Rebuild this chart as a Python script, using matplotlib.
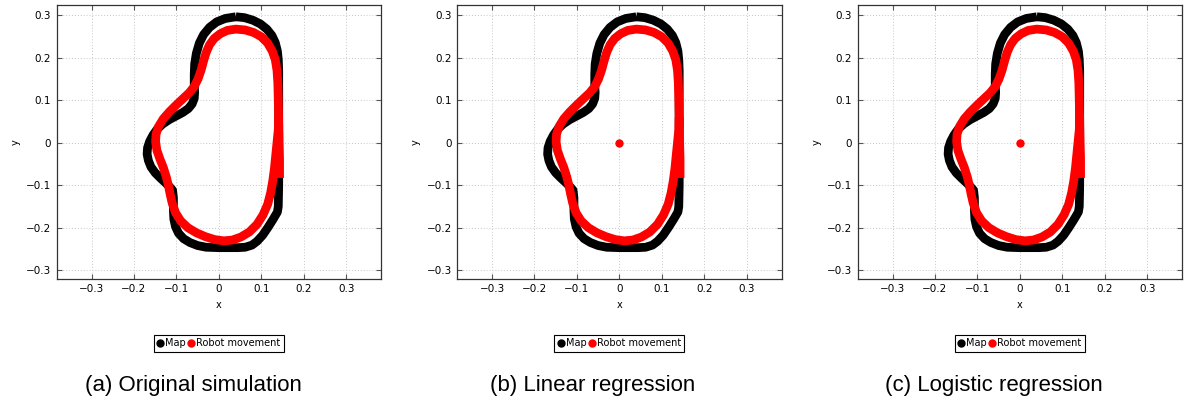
import matplotlib
matplotlib.use("Agg")
import matplotlib.pyplot as plt
from matplotlib.lines import Line2D

# ---------------- data ----------------
map_x = [0.040, 0.060, 0.080, 0.098, 0.113, 0.125, 0.133, 0.138, 0.140, 0.141, 0.141, 0.141,
         0.141, 0.140, 0.138, 0.128, 0.116, 0.103, 0.090, 0.078, 0.062, 0.045, 0.000, -0.030,
         -0.050, -0.068, -0.083, -0.095, -0.102, -0.106, -0.107, -0.107, -0.109, -0.115,
         -0.125, -0.138, -0.150, -0.160, -0.166, -0.169, -0.168, -0.163, -0.155, -0.145,
         -0.132, -0.117, -0.100, -0.085, -0.072, -0.063, -0.058, -0.057, -0.058, -0.058,
         -0.057, -0.053, -0.046, -0.036, -0.022, -0.005, 0.015, 0.040]
map_y = [0.296, 0.294, 0.288, 0.279, 0.267, 0.252, 0.235, 0.215, 0.195, 0.170, 0.100, 0.000,
         -0.100, -0.150, -0.163, -0.180, -0.199, -0.218, -0.232, -0.241, -0.246, -0.247, -0.247,
         -0.246, -0.242, -0.235, -0.226, -0.213, -0.198, -0.180, -0.160, -0.130, -0.112, -0.105,
         -0.095, -0.083, -0.071, -0.057, -0.042, -0.027, -0.012, 0.003, 0.018, 0.032,
         0.044, 0.054, 0.063, 0.071, 0.080, 0.091, 0.104, 0.118, 0.135, 0.160,
         0.185, 0.210, 0.234, 0.254, 0.271, 0.284, 0.292, 0.296]

robot_x = [0.143, 0.143, 0.142, 0.141, 0.140, 0.139, 0.137, 0.133, 0.126, 0.115, 0.100, 0.082,
           0.062, 0.040, 0.020, 0.003, -0.011, -0.022, -0.030, -0.036, -0.042, -0.049, -0.058,
           -0.070, -0.085, -0.101, -0.117, -0.131, -0.142, -0.148, -0.149, -0.146, -0.139,
           -0.131, -0.124, -0.119, -0.115, -0.110, -0.102, -0.090, -0.073, -0.053, -0.032,
           -0.010, 0.012, 0.032, 0.052, 0.072, 0.090, 0.104, 0.115, 0.122, 0.127, 0.131,
           0.134, 0.137, 0.140, 0.141]
robot_y = [-0.083, -0.040, 0.000, 0.050, 0.100, 0.140, 0.170, 0.195, 0.215, 0.234, 0.249, 0.259,
           0.265, 0.267, 0.264, 0.256, 0.245, 0.230, 0.212, 0.192, 0.170, 0.150, 0.132,
           0.117, 0.103, 0.088, 0.072, 0.056, 0.038, 0.020, 0.002, -0.018, -0.038,
           -0.058, -0.080, -0.100, -0.120, -0.142, -0.165, -0.184, -0.200, -0.212, -0.221,
           -0.228, -0.231, -0.229, -0.222, -0.210, -0.192, -0.170, -0.145, -0.118, -0.090, -0.060,
           -0.030, 0.000, 0.030, 0.060]

origin_x = [0.0]
origin_y = [0.0]

captions = ["(a) Original simulation", "(b) Linear regression", "(c) Logistic regression"]
show_origin = [False, True, True]
ticks = [-0.3, -0.2, -0.1, 0, 0.1, 0.2, 0.3]
tick_labels = ["\u22120.3", "\u22120.2", "\u22120.1", "0", "0.1", "0.2", "0.3"]
legend_labels = ["Map", "Robot movement"]

# ---------------- figure ----------------
W, H = 1184, 401
fig = plt.figure(figsize=(W / 100, H / 100), dpi=100)

ax_left_px = [56.7, 457.2, 857.7]
ax_w_px = 324.3
ax_top_px = 5.3
ax_bot_px = 278.7
cap_x_px = [193, 593, 994]

for i in range(3):
    ax = fig.add_axes([ax_left_px[i] / W, 1 - ax_bot_px / H,
                       ax_w_px / W, (ax_bot_px - ax_top_px) / H])
    ax.plot(map_x, map_y, color="black", lw=6.3, solid_capstyle="butt",
            solid_joinstyle="round", zorder=3)
    ax.plot(robot_x, robot_y, color="#ff0000", lw=6.3, solid_capstyle="butt",
            solid_joinstyle="round", zorder=4)
    if show_origin[i]:
        ax.plot(origin_x, origin_y, "o", color="#ff0000", ms=5, zorder=5)
    ax.set_xlim(-0.382, 0.382)
    ax.set_ylim(-0.32, 0.323)
    ax.set_xticks(ticks)
    ax.set_xticklabels(tick_labels)
    ax.set_yticks(ticks)
    ax.set_yticklabels(tick_labels)
    ax.tick_params(direction="in", top=True, right=True, length=3.5, width=0.8,
                   color="#555555", labelsize=7.5, pad=4)
    for s in ax.spines.values():
        s.set_color("#333333")
        s.set_linewidth(0.9)
    ax.grid(True, linestyle=(0, (1, 2)), color="#c8c8c8", lw=0.7)
    ax.set_axisbelow(True)
    ax.set_xlabel("x", fontsize=7, labelpad=4)
    ax.set_ylabel("y", fontsize=7, labelpad=4)

    handles = [Line2D([], [], ls="", marker="o", color="black", ms=5),
               Line2D([], [], ls="", marker="o", color="#ff0000", ms=5)]
    leg = ax.legend(handles, legend_labels, loc="center", bbox_to_anchor=(0.5, -0.237),
                    ncol=2, fontsize=7, frameon=True, fancybox=False, edgecolor="black",
                    framealpha=1, handlelength=0.6, handletextpad=0.2, columnspacing=0.25,
                    borderpad=0.35, borderaxespad=0)
    leg.get_frame().set_linewidth(0.8)

    fig.text(cap_x_px[i] / W, 1 - 385 / H, captions[i], ha="center", va="center",
             fontsize=16, family="Liberation Sans")

fig.savefig("out.png", dpi=100)
